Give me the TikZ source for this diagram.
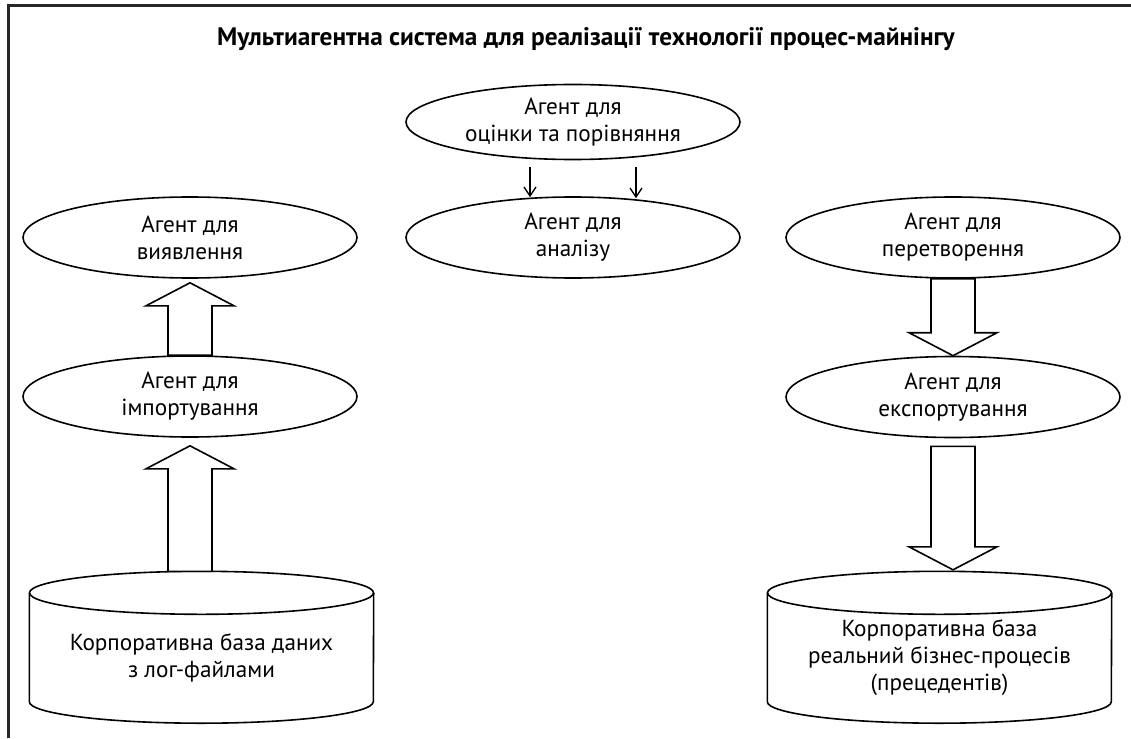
\documentclass[tikz,border=0pt]{standalone}
\usepackage{fontspec}
\setmainfont{PT Sans}
\usetikzlibrary{shapes.geometric,arrows.meta,calc}
\newcommand{\agfont}{\fontsize{23.2}{27}\selectfont}
\newcommand{\ttlfont}{\fontsize{25.3}{30}\selectfont\bfseries}
\tikzset{
  agent/.style={draw, ellipse, line width=1.6pt, minimum width=334pt,
                minimum height=81pt, inner sep=0pt, align=center, font=\agfont},
  dbbody/.style={minimum width=344pt, minimum height=130pt, inner sep=0pt,
                 align=center, font=\agfont},
  dbline/.style={line width=1.6pt},
  fat/.style={line width=1.6pt, line join=miter, fill=white},
  thinarr/.style={-{Straight Barb[length=9pt, width=12pt]}, line width=1.3pt},
  frame/.style={line width=3pt, draw=black!85},
}
% cylinder round a body node: top ellipse centred on its north
\newcommand{\dbdraw}[1]{%
  \draw[dbline] (#1.north) ellipse[x radius=172, y radius=21.5];
  \draw[dbline] (#1.north west) -- ($(#1.south west)+(0,-21.5)$)
    arc[start angle=180, end angle=0, x radius=172, y radius=21.5]
    -- (#1.north east);}
% block arrow: #1 tail, #2 tip, #3 = 1 up, -1 down
\newcommand{\fatarrow}[3]{%
  \draw[fat] ($(#1)+(-22,0)$) -- ($(#2)+(-22,#3*23)$) -- ($(#2)+(-44,#3*23)$)
    -- (#2) -- ($(#2)+(44,#3*23)$) -- ($(#2)+(22,#3*23)$) -- ($(#1)+(22,0)$) -- cycle;}

\begin{document}
\begin{tikzpicture}[x=1pt, y=-1pt]
\useasboundingbox (0,0) rectangle (1131,738);
\draw[frame] (8,738) -- (8,6) -- (1131,6);

\node[font=\ttlfont] (title) at (586,39)
  {Мультиагентна система для реалізації технології процес-майнінгу};

\node[agent, minimum height=75pt] (ocin) at (573,122) {Агент для\\оцінки та порівняння};
\node[agent] (anal) at (573,237.5) {Агент для\\аналізу};

\node[agent] (vyav) at (190,237.5) {Агент для\\виявлення};
\node[agent] (imp) at (190,396.5) {Агент для\\імпортування};

\node[agent] (pere) at (953,237.5) {Агент для\\перетворення};
\node[agent] (exp) at (953,397) {Агент для\\експортування};

\node[dbbody] (dblog) at (201.5,658) {Корпоративна база даних\\з лог-файлами};
\node[dbbody] (dbproc) at (939.5,658) {Корпоративна база\\реальний бізнес-процесів\\(прецедентів)};
\dbdraw{dblog}
\dbdraw{dbproc}

\draw[thinarr] ($(ocin.south)+(-43,7)$) -- ($(anal.north)+(-43,1)$);
\draw[thinarr] ($(ocin.south)+(63,7)$) -- ($(anal.north)+(63,2)$);

\coordinate (t1) at ($(imp.south |- dblog.north)+(0,-21.5)$);
\coordinate (h1) at ($(imp.south)+(0,8)$);
\coordinate (t2) at (imp.north);
\coordinate (h2) at ($(vyav.south)+(0,4)$);
\fatarrow{t1}{h1}{1}
\fatarrow{t2}{h2}{1}

\coordinate (t3) at (pere.south);
\coordinate (h3) at (exp.north);
\coordinate (t4) at ($(exp.south)+(0,8)$);
\coordinate (h4) at ($(exp.south |- dbproc.north)+(0,-23)$);
\fatarrow{t3}{h3}{-1}
\fatarrow{t4}{h4}{-1}

\end{tikzpicture}
\end{document}
